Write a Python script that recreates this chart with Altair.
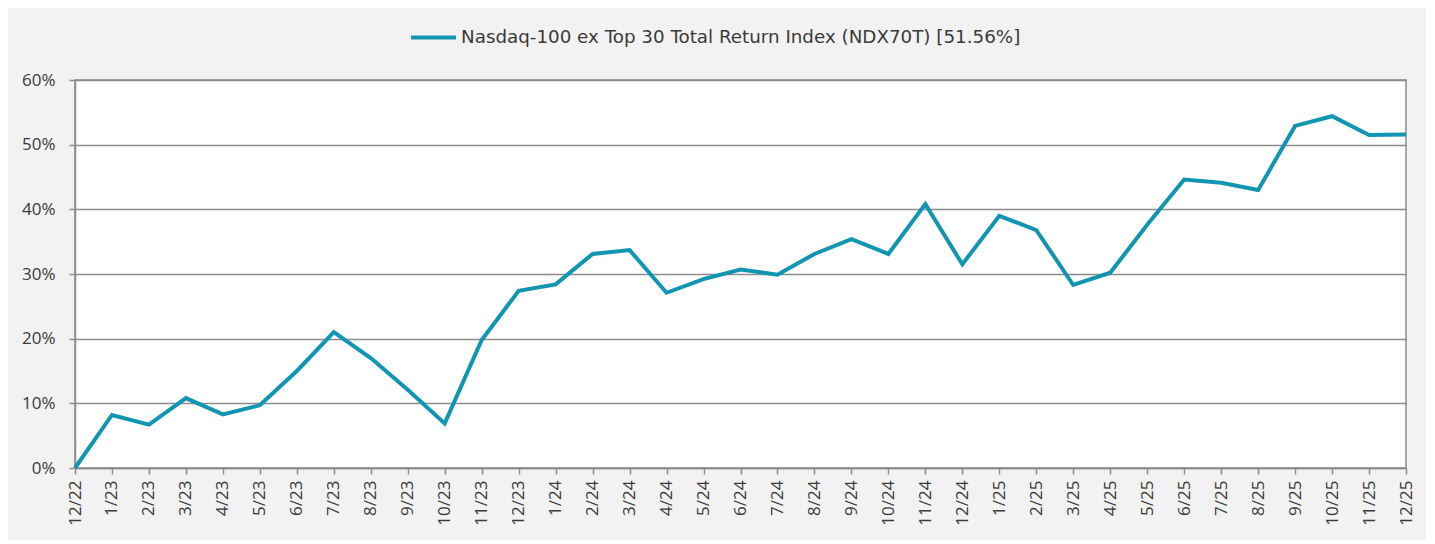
import altair as alt
import pandas as pd

months = ["12/22", "1/23", "2/23", "3/23", "4/23", "5/23", "6/23", "7/23", "8/23", "9/23",
          "10/23", "11/23", "12/23", "1/24", "2/24", "3/24", "4/24", "5/24", "6/24", "7/24",
          "8/24", "9/24", "10/24", "11/24", "12/24", "1/25", "2/25", "3/25", "4/25", "5/25",
          "6/25", "7/25", "8/25", "9/25", "10/25", "11/25", "12/25"]
returns_pct = [0.0, 8.2, 6.7, 10.8, 8.3, 9.7, 15.0, 21.0, 17.0, 12.1,
               6.9, 19.8, 27.4, 28.4, 33.1, 33.7, 27.1, 29.2, 30.7, 29.9,
               33.1, 35.4, 33.1, 40.8, 31.5, 39.0, 36.8, 28.3, 30.2, 37.6,
               44.6, 44.1, 43.0, 52.9, 54.4, 51.5, 51.56]
series_name = "Nasdaq-100 ex Top 30 Total Return Index (NDX70T) [51.56%]"

df = pd.DataFrame({
    "month": months,
    "ret": [v / 100 for v in returns_pct],
    "series": series_name,
})

FONT = "Open Sans"
LEGEND_FONT = "DejaVu Sans"
TEXT = "#3a3a3a"
GRID = "#8c8c8c"
LINE = "#1096b2"

chart = alt.Chart(df).mark_line(strokeWidth=4, strokeJoin="miter").encode(
    x=alt.X("month:N", sort=months, scale=alt.Scale(type="point", padding=0),
            axis=alt.Axis(title=None, labelAngle=-90, labelAlign="right", labelBaseline="middle",
                          labelFontSize=17, labelPadding=6, tickSize=6, tickWidth=1.5,
                          tickColor=GRID, domainColor=GRID, domainWidth=1.5, grid=False,
                          labelColor=TEXT, labelFont=FONT)),
    y=alt.Y("ret:Q", scale=alt.Scale(domain=[0, 0.6], nice=False),
            axis=alt.Axis(title=None, format=".0%", values=[0, 0.1, 0.2, 0.3, 0.4, 0.5, 0.6],
                          labelFontSize=17, labelPadding=14, tickSize=6, tickWidth=1.5,
                          tickColor=GRID, domainColor=GRID, domainWidth=1.5,
                          gridColor=GRID, gridWidth=1.5, gridOpacity=1,
                          labelColor=TEXT, labelFont=FONT)),
    color=alt.Color("series:N", scale=alt.Scale(range=[LINE]),
                    legend=alt.Legend(title=None, orient="none", legendX=334, legendY=-67,
                                      symbolType="stroke", symbolSize=2025, symbolStrokeWidth=4,
                                      labelFontSize=18.3, labelFont=LEGEND_FONT, labelColor=TEXT,
                                      labelLimit=0, labelOffset=3)),
).properties(
    width=1331,
    height=388,
    autosize=alt.AutoSizeParams(type="none"),
    padding={"left": 67, "top": 72, "right": 20, "bottom": 72},
    background="#f2f2f2",
).configure_view(
    stroke=GRID, strokeWidth=1.5, fill="white"
)

chart.save("out.html", embed_options={"renderer": "svg", "actions": False})
